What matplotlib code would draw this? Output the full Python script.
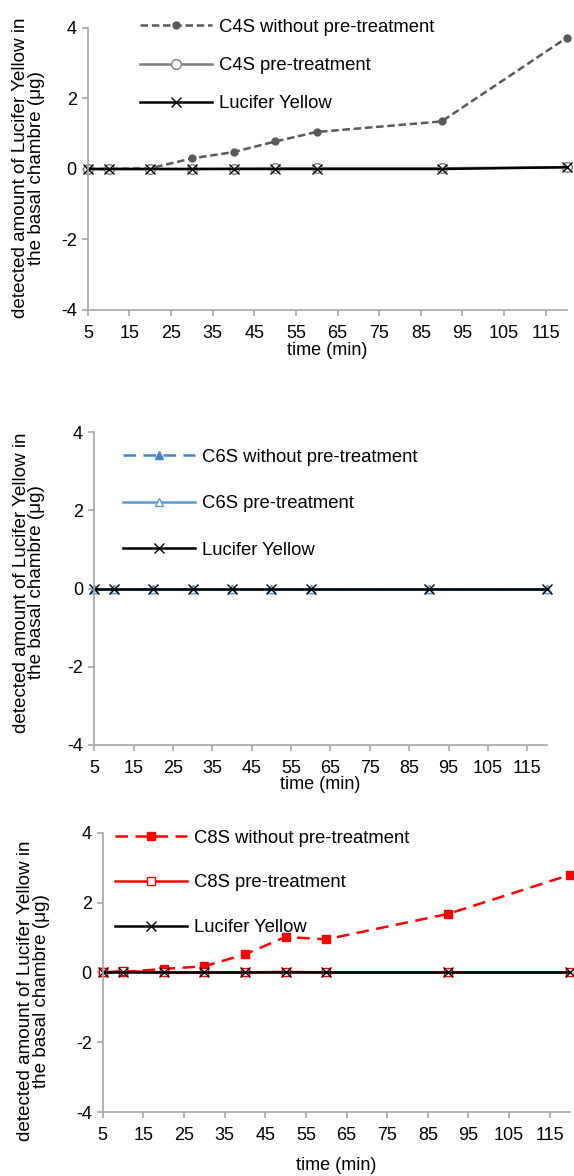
import matplotlib.pyplot as plt
from matplotlib.ticker import FixedLocator

plt.rcParams['font.family'] = ['Liberation Sans', 'DejaVu Sans']
plt.rcParams['axes.unicode_minus'] = False

time_min = [5, 10, 20, 30, 40, 50, 60, 90, 120]

# C4S panel
c4s_without = [0, 0, 0.02, 0.30, 0.48, 0.78, 1.05, 1.35, 3.72]
c4s_pre = [0, 0, 0, 0, 0.01, 0.02, 0.02, 0.02, 0.05]
ly_1 = [0, 0, 0, 0, 0, 0, 0, 0, 0.05]

# C6S panel
c6s_without = [0, 0, 0, 0, 0, 0, 0, 0, 0]
c6s_pre = [0, 0, 0, 0, 0, 0, 0, 0, 0]
ly_2 = [0, 0, 0, 0, 0, 0, 0, 0, 0]

# C8S panel
c8s_without = [0, 0.02, 0.10, 0.18, 0.52, 1.02, 0.95, 1.68, 2.80]
c8s_pre = [0, 0.04, 0, 0, 0, 0.02, 0, 0, 0]
ly_3 = [0, 0, 0, 0, 0, 0, 0, 0, 0]

xticks = list(range(5, 120, 10))
yticks = [-4, -2, 0, 2, 4]
ylab = 'detected amount of Lucifer Yellow in\nthe basal chambre (μg)'
FS = 13
LFS = 13.3
YFS = 13.6

fig = plt.figure(figsize=(5.74, 11.76), dpi=100)


def style_axes(ax, ylabel_x, ylabel_y, xlabel_y):
    ax.set_xlim(5, 120)
    ax.set_ylim(-4, 4)
    ax.xaxis.set_major_locator(FixedLocator(xticks))
    ax.yaxis.set_major_locator(FixedLocator(yticks))
    for s in ['top', 'right']:
        ax.spines[s].set_visible(False)
    for s in ['left', 'bottom']:
        ax.spines[s].set_color('#a6a6a6')
        ax.spines[s].set_linewidth(1.2)
    ax.tick_params(axis='both', colors='#a6a6a6', labelcolor='black',
                   labelsize=FS, length=4, width=1.2, pad=4)
    ax.tick_params(axis='x', pad=7)
    ax.set_ylabel(ylab, fontsize=YFS, linespacing=0.9)
    ax.yaxis.set_label_coords(ylabel_x, ylabel_y)
    ax.set_xlabel('time (min)', fontsize=FS)
    ax.xaxis.set_label_coords(0.5, xlabel_y)


def add_legend(ax, x, y, spacing):
    leg = ax.legend(loc='upper left', bbox_to_anchor=(x, y),
                    bbox_transform=fig.transFigure, frameon=False,
                    fontsize=LFS, handlelength=3.9, handletextpad=0.4,
                    labelspacing=spacing, borderpad=0, borderaxespad=0)
    return leg


# panel 1
ax1 = fig.add_axes([0.153, 0.7364, 0.834, 0.2398])
ax1.plot(time_min, c4s_without, color='#595959', ls=(0, (3, 1.5)), lw=1.8,
         marker='o', ms=5, label='C4S without pre-treatment', clip_on=False)
ax1.plot(time_min, c4s_pre, color='#7f7f7f', ls='-', lw=1.8, marker='o',
         ms=7, mfc='white', mec='#7f7f7f', label='C4S pre-treatment', clip_on=False)
ax1.plot(time_min, ly_1, color='black', lw=1.8, marker='x', ms=7,
         mew=1.0, label='Lucifer Yellow', clip_on=False)
style_axes(ax1, -0.09, 0.505, -0.113)
add_legend(ax1, 0.244, 0.984, 1.15)

# panel 2
ax2 = fig.add_axes([0.164, 0.3665, 0.789, 0.266])
ax2.plot(time_min, c6s_without, color='#3f87d0', ls=(0, (5, 3)), lw=1.8,
         marker='^', ms=6, label='C6S without pre-treatment', clip_on=False)
ax2.plot(time_min, c6s_pre, color='#5b9bd5', ls='-', lw=1.8, marker='^',
         ms=6, mfc='white', mec='#5b9bd5', label='C6S pre-treatment', clip_on=False)
ax2.plot(time_min, ly_2, color='black', lw=1.8, marker='x', ms=7,
         mew=1.0, label='Lucifer Yellow', clip_on=False)
style_axes(ax2, -0.108, 0.52, -0.1)
add_legend(ax2, 0.214, 0.6185, 1.6)

# panel 3
ax3 = fig.add_axes([0.179, 0.0544, 0.814, 0.2373])
ax3.plot(time_min, c8s_without, color='#ff0000', ls=(0, (5, 3)), lw=1.8,
         marker='s', ms=6, label='C8S without pre-treatment', clip_on=False)
ax3.plot(time_min, c8s_pre, color='#ff0000', ls='-', lw=1.8, marker='s',
         ms=6, mfc='white', mec='#ff0000', label='C8S pre-treatment', clip_on=False)
ax3.plot(time_min, ly_3, color='black', lw=1.8, marker='x', ms=7,
         mew=1.0, label='Lucifer Yellow', clip_on=False)
style_axes(ax3, -0.113, 0.434, -0.161)
add_legend(ax3, 0.2, 0.2945, 1.5)

fig.savefig('out.png', dpi=100)
